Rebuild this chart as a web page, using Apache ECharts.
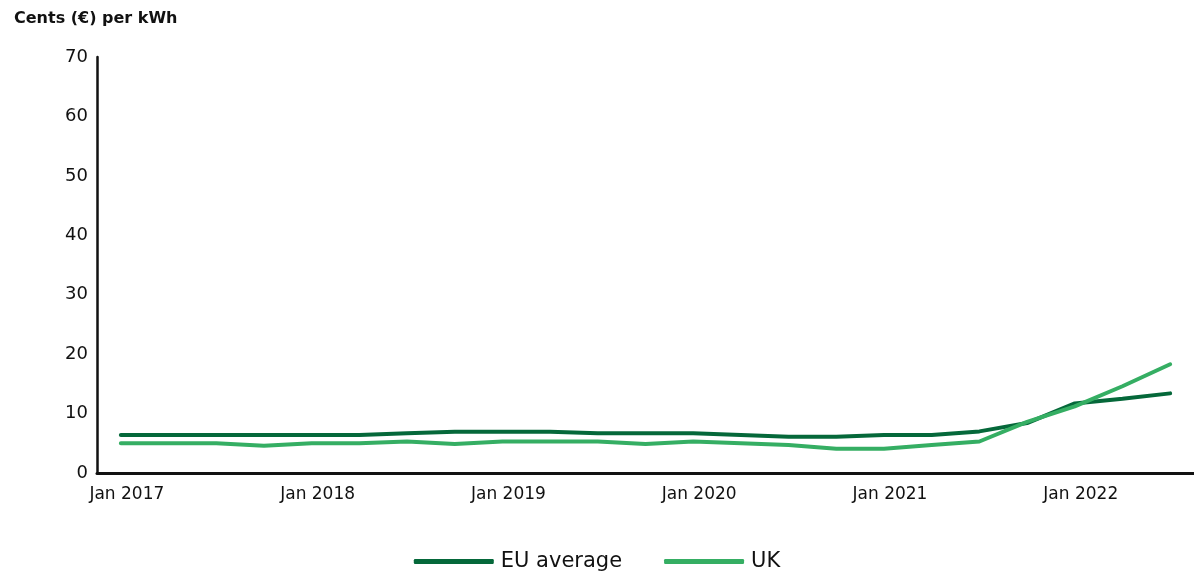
<!DOCTYPE html>
<html><head><meta charset="utf-8">
<script src="https://cdn.jsdelivr.net/npm/echarts@6/dist/echarts.min.js"></script>
<style>html,body{margin:0;padding:0;background:#fff}#c{width:1194px;height:573px}</style>
</head><body><div id="c"></div>
<script>
const categories = ['Jan 2017','Apr 2017','Jul 2017','Oct 2017','Jan 2018','Apr 2018','Jul 2018','Oct 2018','Jan 2019','Apr 2019','Jul 2019','Oct 2019','Jan 2020','Apr 2020','Jul 2020','Oct 2020','Jan 2021','Apr 2021','Jul 2021','Oct 2021','Jan 2022','Apr 2022','Jul 2022'];
const euAverage = [6.4,6.4,6.4,6.4,6.4,6.4,6.7,6.95,6.95,6.95,6.7,6.7,6.7,6.4,6.1,6.1,6.4,6.4,7.0,8.4,11.7,12.5,13.4];
const uk = [5.0,5.0,5.0,4.6,5.0,5.0,5.3,4.9,5.3,5.3,5.3,4.9,5.3,5.0,4.7,4.1,4.1,4.7,5.3,8.6,11.2,14.6,18.3];
const yTicks = [0,10,20,30,40,50,60,70];
const font = '"DejaVu Sans", sans-serif';
const chart = echarts.init(document.getElementById('c'));
chart.setOption({
  animation:false,
  title:{text:'Cents (€) per kWh',left:9,top:6,textStyle:{fontFamily:font,fontSize:16,fontWeight:'bold',color:'#111'}},
  grid:{left:97,right:0,top:57,bottom:100,containLabel:false},
  legend:{top:546,left:'center',itemWidth:80,itemHeight:5,itemGap:42,icon:'roundRect',
    textStyle:{fontFamily:font,fontSize:21,color:'#111',padding:[0,0,0,2]},data:['EU average','UK']},
  xAxis:{type:'category',data:categories,boundaryGap:true,
    axisLine:{lineStyle:{color:'#111',width:3}},axisTick:{show:false},
    axisLabel:{interval:3,fontFamily:font,fontSize:17,color:'#111',margin:13,padding:[0,0,0,12]}},
  yAxis:{type:'value',min:0,max:70,interval:10,
    axisLine:{show:true,lineStyle:{color:'#111',width:2.5}},axisTick:{show:false},splitLine:{show:false},
    axisLabel:{fontFamily:font,fontSize:18,color:'#111',margin:9}},
  series:[
    {name:'EU average',type:'line',data:euAverage,symbol:'none',lineStyle:{width:4,color:'#05683a',cap:'round'},itemStyle:{color:'#05683a'}},
    {name:'UK',type:'line',data:uk,symbol:'none',lineStyle:{width:4,color:'#35ae63',cap:'round'},itemStyle:{color:'#35ae63'}}
  ]
});
</script></body></html>
